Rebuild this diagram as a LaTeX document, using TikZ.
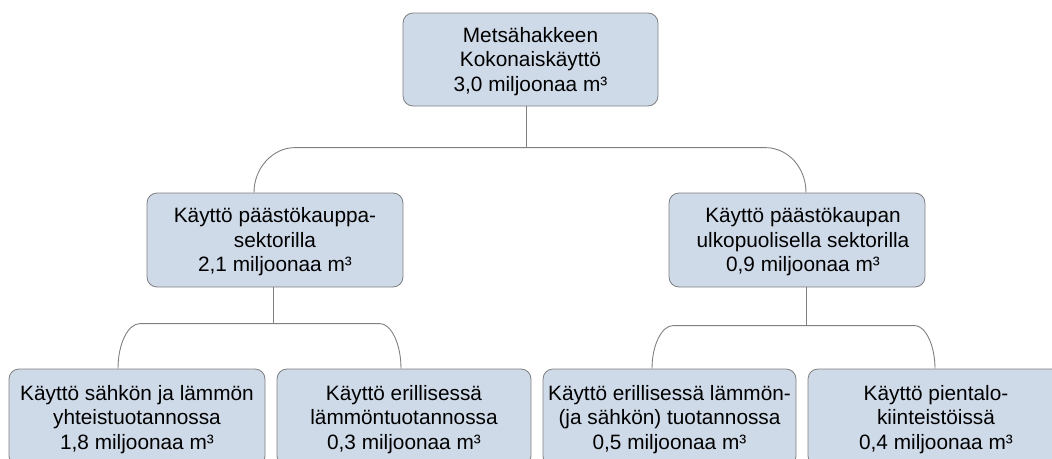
\documentclass[tikz,border=0pt]{standalone}
\usepackage{fontspec}
\setmainfont{Liberation Sans}
\definecolor{boxfill}{HTML}{CFDAE9}
\definecolor{boxline}{HTML}{7F7F7F}
\definecolor{connline}{HTML}{808080}
\begin{document}
\begin{tikzpicture}[x=1pt,y=-1pt,
  orgbox/.style={draw=boxline, fill=boxfill, line width=0.8pt, rounded corners=10pt,
    align=center, inner sep=0pt, font=\fontsize{20.8}{24.5}\selectfont, text=black,
    text height=68pt, text depth=5pt},
  boxtext/.style={align=center, inner sep=0pt, font=\fontsize{20.8}{24.5}\selectfont,
    text=black, text height=68pt, text depth=5pt},
  conn/.style={draw=connline, line width=0.9pt}]
\useasboundingbox (0,0) rectangle (1052,458);
\clip (0,0) rectangle (1052,458);
% boxes
\node[orgbox, minimum width=255pt, minimum height=93pt] (top) at (530.5,59.5)
  {Metsähakkeen\\Kokonaiskäyttö\\3,0 miljoonaa m³};
\node[orgbox, minimum width=256pt, minimum height=94pt] (midL) at (275,240)
  {Käyttö päästökauppa-\\sektorilla\\2,1 miljoonaa m³};
\node[orgbox, minimum width=256pt, minimum height=94pt] (midR) at (797,240) {};
\node[boxtext] (midRtext) at ([xshift=6pt]midR.center)
  {Käyttö päästökaupan\\ulkopuolisella sektorilla\\0,9 miljoonaa m³};
\node[orgbox, minimum width=256pt, minimum height=97pt] (bA) at (137,417.5)
  {Käyttö sähkön ja lämmön\\yhteistuotannossa\\1,8 miljoonaa m³};
\node[orgbox, minimum width=254pt, minimum height=97pt] (bB) at (404,417.5)
  {Käyttö erillisessä\\lämmöntuotannossa\\0,3 miljoonaa m³};
\node[orgbox, minimum width=253pt, minimum height=97pt] (bC) at (669.5,417.5)
  {Käyttö erillisessä lämmön-\\(ja sähkön) tuotannossa\\0,5 miljoonaa m³};
\node[orgbox, minimum width=256pt, minimum height=97pt] (bD) at (936,417.5)
  {Käyttö pientalo-\\kiinteistöissä\\0,4 miljoonaa m³};
% connectors: top -> middle
\draw[conn] ([xshift=-4.5pt]top.south) -- ([xshift=-4.5pt,yshift=-42pt]top.south);
\draw[conn] ([xshift=-21pt]midL.north)
  .. controls ([xshift=-21pt,yshift=25pt]midL.north) and ([xshift=-2pt,yshift=45pt]midL.north)
  .. ([xshift=20pt,yshift=45pt]midL.north)
  -- ([xshift=-32pt,yshift=45pt]midR.north)
  .. controls ([xshift=-9pt,yshift=45pt]midR.north) and ([xshift=9pt,yshift=25pt]midR.north)
  .. ([xshift=9pt]midR.north);
% connectors: midL -> bA, bB
\draw[conn] ([xshift=-2pt]midL.south) -- ([xshift=-2pt,yshift=-37pt]midL.south);
\draw[conn] ([xshift=-19pt]bA.north)
  .. controls ([xshift=-19pt,yshift=25pt]bA.north) and ([xshift=-9pt,yshift=45pt]bA.north)
  .. ([xshift=3pt,yshift=45pt]bA.north)
  -- ([xshift=-24pt,yshift=45pt]bB.north)
  .. controls ([xshift=-13pt,yshift=45pt]bB.north) and ([xshift=-3pt,yshift=25pt]bB.north)
  .. ([xshift=-3pt]bB.north);
% connectors: midR -> bC, bD
\draw[conn] ([xshift=9pt]midR.south) -- ([xshift=9pt,yshift=-39pt]midR.south);
\draw[conn] ([xshift=-17.5pt]bC.north)
  .. controls ([xshift=-17.5pt,yshift=24pt]bC.north) and ([xshift=-7.5pt,yshift=43pt]bC.north)
  .. ([xshift=3.5pt,yshift=43pt]bC.north)
  -- ([xshift=-21pt,yshift=43pt]bD.north)
  .. controls ([xshift=-11pt,yshift=43pt]bD.north) and ([xshift=-1pt,yshift=24pt]bD.north)
  .. ([xshift=-1pt]bD.north);
\end{tikzpicture}
\end{document}
